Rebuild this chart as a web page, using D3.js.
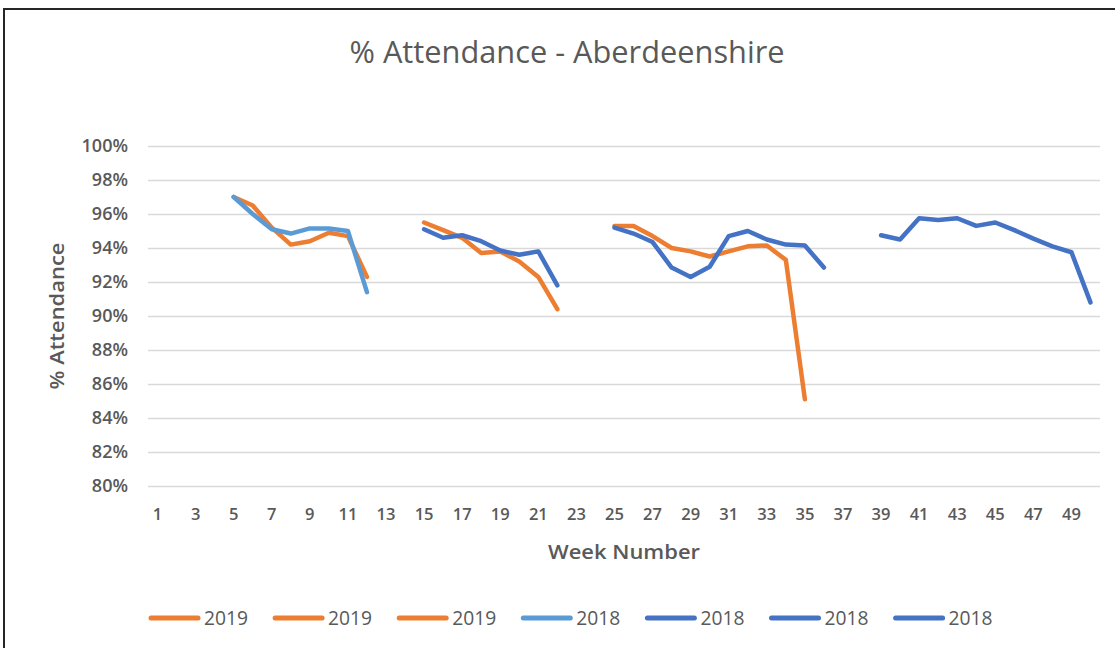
<!DOCTYPE html>
<html>
<head>
<meta charset="utf-8">
<script src="https://cdn.jsdelivr.net/npm/d3@7"></script>
<style>
  html, body { margin: 0; padding: 0; background: #fff; }
  svg { display: block; }
  text { font-family: "Open Sans", "Noto Sans", sans-serif; fill: #595959; }
</style>
</head>
<body>
<svg id="chart" width="1115" height="648"></svg>
<script>
// ---- Data ----
const weeks = [1,2,3,4,5,6,7,8,9,10,11,12,13,14,15,16,17,18,19,20,21,22,23,24,25,26,27,28,29,30,31,32,33,34,35,36,37,38,39,40,41,42,43,44,45,46,47,48,49,50];
const weekTickLabels = [1,3,5,7,9,11,13,15,17,19,21,23,25,27,29,31,33,35,37,39,41,43,45,47,49];
const yTickValues = [80,82,84,86,88,90,92,94,96,98,100];

// series segments: week numbers and % attendance
const weeks2019a = [5,6,7,8,9,10,11,12];
const att2019a   = [97.0,96.5,95.2,94.2,94.4,94.9,94.7,92.3];
const weeks2019b = [15,16,17,18,19,20,21,22];
const att2019b   = [95.5,95.05,94.6,93.7,93.8,93.2,92.3,90.4];
const weeks2019c = [25,26,27,28,29,30,31,32,33,34,35];
const att2019c   = [95.3,95.3,94.7,94.0,93.8,93.5,93.8,94.1,94.15,93.3,85.1];
const weeks2018a = [5,6,7,8,9,10,11,12];
const att2018a   = [97.0,96.0,95.1,94.85,95.15,95.15,95.0,91.4];
const weeks2018b = [15,16,17,18,19,20,21,22];
const att2018b   = [95.1,94.6,94.75,94.4,93.85,93.6,93.8,91.8];
const weeks2018c = [25,26,27,28,29,30,31,32,33,34,35,36];
const att2018c   = [95.2,94.85,94.35,92.85,92.3,92.9,94.7,95.0,94.5,94.2,94.15,92.85];
const weeks2018d = [39,40,41,42,43,44,45,46,47,48,49,50];
const att2018d   = [94.75,94.5,95.75,95.65,95.75,95.3,95.5,95.05,94.55,94.1,93.75,90.8];

const seriesNames = ["2019","2019","2019","2018","2018","2018","2018"];
const seriesColors = ["#ED7D31","#ED7D31","#ED7D31","#5B9BD5","#4472C4","#4472C4","#4472C4"];
const seriesWeeks = [weeks2019a, weeks2019b, weeks2019c, weeks2018a, weeks2018b, weeks2018c, weeks2018d];
const seriesValues = [att2019a, att2019b, att2019c, att2018a, att2018b, att2018c, att2018d];

// ---- Layout ----
const svg = d3.select("#chart");
const plot = { left: 148, right: 1100, top: 146, bottom: 486 };

// frame
svg.append("rect").attr("x", 4).attr("y", 9).attr("width", 1300).attr("height", 900)
  .attr("fill", "none").attr("stroke", "#262626").attr("stroke-width", 2);

const x = d3.scaleBand().domain(weeks).range([plot.left, plot.right]).paddingInner(0).paddingOuter(0);
const xc = w => x(w) + x.bandwidth() / 2;
const y = d3.scaleLinear().domain([80, 100]).range([plot.bottom, plot.top]);

// title
svg.append("text").attr("x", 567).attr("y", 63).attr("text-anchor", "middle")
  .attr("font-size", 31).attr("font-weight", 500).attr("textLength", 435).attr("lengthAdjust", "spacingAndGlyphs")
  .text("% Attendance - Aberdeenshire");

// gridlines + y axis
const yAxis = d3.axisLeft(y).tickValues(yTickValues).tickSize(-(plot.right - plot.left))
  .tickFormat(d => d + "%").tickPadding(20);
const gy = svg.append("g").attr("transform", `translate(${plot.left},0)`).call(yAxis);
gy.select(".domain").remove();
gy.selectAll(".tick line").attr("stroke", "#d9d9d9").attr("stroke-width", 1.3);
gy.selectAll(".tick text").attr("font-size", 18).attr("font-weight", 600)
  .attr("fill", "#595959").style("font-family", '"Open Sans", sans-serif');

// x axis labels
const xAxis = d3.axisBottom(x).tickValues(weekTickLabels).tickSize(0).tickPadding(22);
const gx = svg.append("g").attr("transform", `translate(0,${plot.bottom})`).call(xAxis);
gx.select(".domain").remove();
gx.selectAll(".tick text").attr("font-size", 16.5).attr("font-weight", 600)
  .attr("fill", "#595959").style("font-family", '"Open Sans", sans-serif');

// axis titles
svg.append("text").attr("transform", "translate(57,316) rotate(-90)")
  .attr("text-anchor", "middle").attr("dy", "0.35em")
  .attr("font-size", 20).attr("font-weight", 600)
  .attr("textLength", 147).attr("lengthAdjust", "spacingAndGlyphs")
  .text("% Attendance");
svg.append("text").attr("x", 624).attr("y", 559).attr("text-anchor", "middle")
  .attr("font-size", 20).attr("font-weight", 600)
  .attr("textLength", 152).attr("lengthAdjust", "spacingAndGlyphs")
  .text("Week Number");

// lines
const line = d3.line().x(d => xc(d[0])).y(d => y(d[1]));
seriesValues.forEach((vals, i) => {
  const pts = seriesWeeks[i].map((w, j) => [w, vals[j]]);
  svg.append("path").datum(pts).attr("d", line)
    .attr("fill", "none").attr("stroke", seriesColors[i]).attr("stroke-width", 4.5)
    .attr("stroke-linejoin", "round").attr("stroke-linecap", "round");
});

// legend
const legendStarts = d3.range(seriesNames.length).map(i => 149 + i * 124.1);
const lg = svg.append("g");
seriesNames.forEach((name, i) => {
  const lx = legendStarts[i];
  lg.append("line").attr("x1", lx + 2).attr("x2", lx + 49).attr("y1", 618).attr("y2", 618)
    .attr("stroke", seriesColors[i]).attr("stroke-width", 5).attr("stroke-linecap", "round");
  lg.append("text").attr("x", lx + 55).attr("y", 625).attr("font-size", 20)
    .attr("textLength", 44).attr("lengthAdjust", "spacingAndGlyphs").text(name);
});
</script>
</body>
</html>
